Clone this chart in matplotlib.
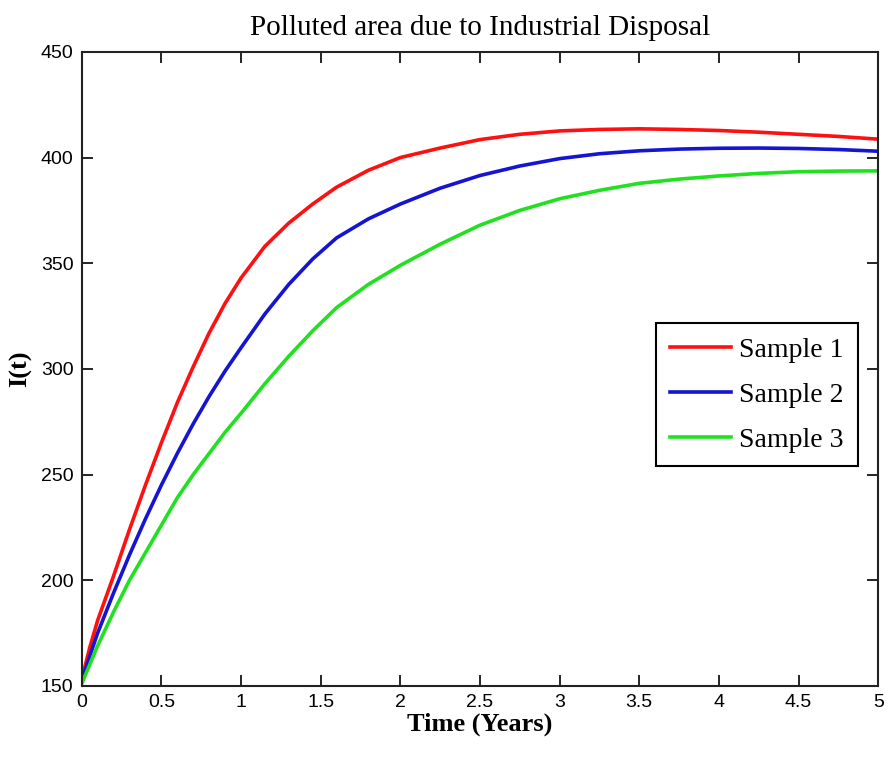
import numpy as np
import matplotlib
matplotlib.use('Agg')
import matplotlib.pyplot as plt

# значения
t = [0, 0.05, 0.1, 0.2, 0.3, 0.4, 0.5, 0.6, 0.7, 0.8, 0.9, 1.0, 1.15, 1.3, 1.45, 1.6, 1.8, 2.0,
     2.25, 2.5, 2.75, 3.0, 3.25, 3.5, 3.75, 4.0, 4.25, 4.5, 4.75, 5.0]
sample1 = [153, 168, 181, 202, 224, 245, 265, 284, 301, 317, 331, 343, 358, 369, 378, 386, 394, 400,
           404.5, 408.5, 411, 412.6, 413.3, 413.6, 413.3, 412.8, 412, 411, 410, 408.7]
sample2 = [152, 164, 175, 194, 212, 229, 245, 260, 274, 287, 299, 310, 326, 340, 352, 362, 371, 378,
           385.5, 391.5, 396, 399.5, 401.8, 403.2, 404, 404.4, 404.5, 404.3, 403.8, 403]
sample3 = [151, 160, 169, 185, 200, 213, 226, 239, 250, 260, 270, 279, 293, 306, 318, 329, 340, 349,
           359, 368, 375, 380.5, 384.5, 387.8, 389.8, 391.3, 392.5, 393.3, 393.6, 393.7]
labels = ['Sample 1', 'Sample 2', 'Sample 3']

serif = ['Liberation Serif', 'DejaVu Serif']
narrow = ['Liberation Sans Narrow', 'Liberation Sans', 'DejaVu Sans']

fig = plt.figure(figsize=(8.88, 7.63), dpi=100)
ax = fig.add_axes([0.092, 0.101, 0.897, 0.831])

ax.plot(t, sample1, color='#ff1010', linewidth=2.6, solid_joinstyle='round', label=labels[0])
ax.plot(t, sample2, color='#1414d2', linewidth=2.6, solid_joinstyle='round', label=labels[1])
ax.plot(t, sample3, color='#20e020', linewidth=2.6, solid_joinstyle='round', label=labels[2])

ax.set_xlim(0, 5)
ax.set_ylim(150, 450)
ax.set_xticks(np.arange(0, 5.01, 0.5))
ax.set_xticklabels(['0', '0.5', '1', '1.5', '2', '2.5', '3', '3.5', '4', '4.5', '5'])
ax.set_yticks(np.arange(150, 451, 50))
ax.tick_params(direction='in', length=8, width=1.2, top=True, right=True, labelsize=14, pad=6)
for lbl in ax.get_xticklabels() + ax.get_yticklabels():
    lbl.set_family(narrow)
for s in ax.spines.values():
    s.set_linewidth(1.5)
    s.set_color('#222222')

ax.set_title('Polluted area due to Industrial Disposal', family=serif, fontsize=21, pad=12)
ax.set_xlabel('Time (Years)', family=serif, fontsize=19, fontweight='bold', labelpad=1)
ax.set_ylabel('I(t)', family=serif, fontsize=19, fontweight='bold', labelpad=6)

leg = ax.legend(loc='center right', bbox_to_anchor=(0.974, 0.459), prop={'family': serif, 'size': 20},
                fancybox=False, framealpha=1, edgecolor='black', handlelength=2.2, borderpad=0.5,
                labelspacing=0.7, handletextpad=0.3, borderaxespad=0)
leg.get_frame().set_linewidth(1.5)

plt.savefig('out.png', dpi=100)
